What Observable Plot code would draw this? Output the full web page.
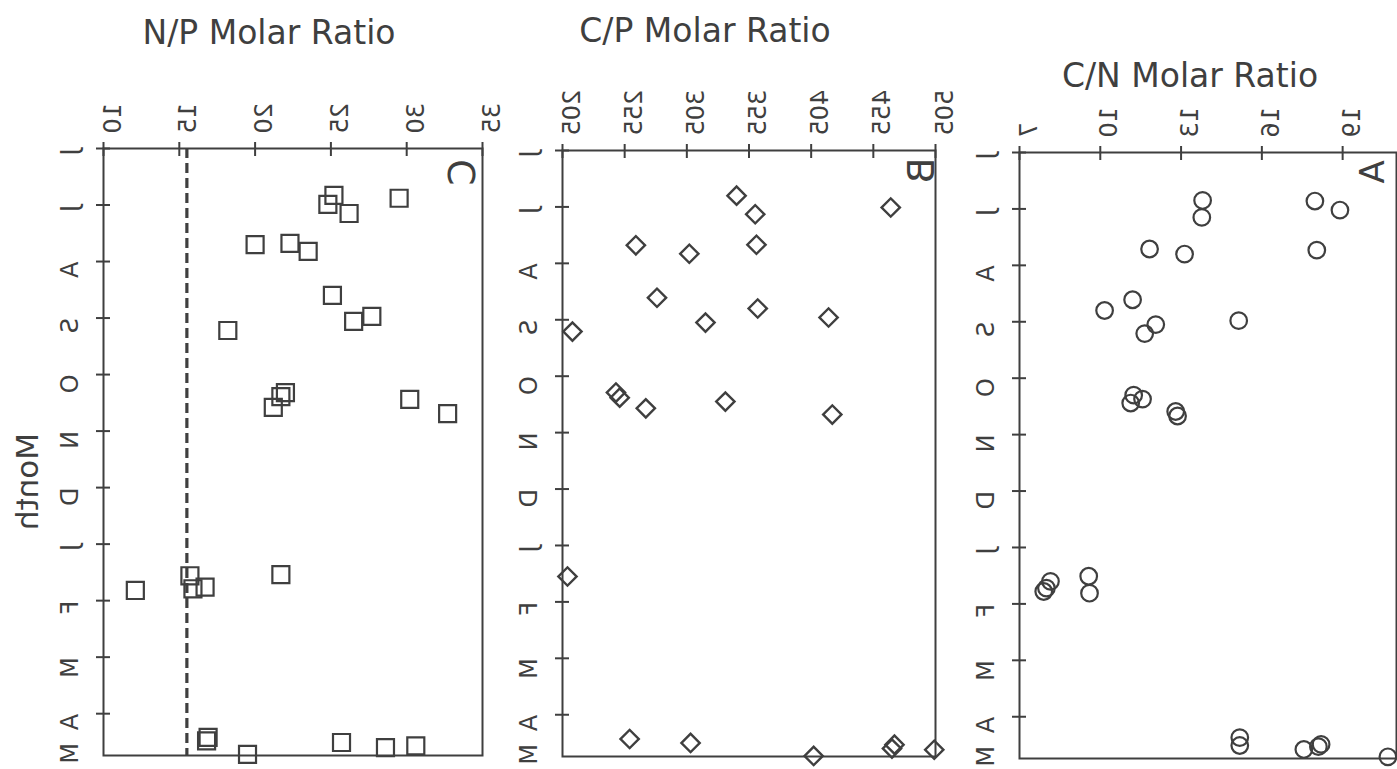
<!DOCTYPE html>
<html>
<head>
<meta charset="utf-8">
<script src="https://cdn.jsdelivr.net/npm/d3@7"></script>
<script src="https://cdn.jsdelivr.net/npm/@observablehq/plot@0.6"></script>
<style>
  body { margin: 0; background: #fff; }
  #fig { position: relative; width: 1397px; height: 769px; overflow: hidden;
         font-family: "DejaVu Sans", sans-serif; color: #3f3f3f; }
  .panel { position: absolute; top: 0; }
  .title { position: absolute; font-size: 33px; white-space: nowrap; line-height: 1;
           transform: translate(-50%, -50%); }
</style>
</head>
<body>
<div id="fig"></div>
<script>
// Month axis: 0 = June, 1 = July, ... 10 = April; the record ends in late May.
const monthLabels = ["J", "J", "A", "S", "O", "N", "D", "J", "F", "M", "A", "M"];
const monthLabelPos = [0, 1, 2, 3, 4, 5, 6, 7, 8, 9, 10, 10.52];
const monthTickPos = [0, 1, 2, 3, 4, 5, 6, 7, 8, 9, 10];
const monthEnd = 10.74;

// N/P molar ratio (panel C)
const npTicks = [10, 15, 20, 25, 30, 35];
const npMonth = [0.83, 0.99, 1.15, 0.88, 1.70, 1.68, 1.82, 2.60, 3.06, 2.97, 3.22,
                 4.32, 4.39, 4.58, 4.44, 4.69, 7.82, 7.56, 7.79, 7.76, 7.54,
                 10.42, 10.48, 10.72, 10.51, 10.60, 10.57];
const npRatio = [25.2, 24.8, 26.2, 29.5, 20.0, 22.3, 23.5, 25.1, 26.5, 27.7, 18.2,
                 22.0, 21.7, 21.2, 30.2, 32.7, 12.1, 15.7, 15.9, 16.7, 21.7,
                 16.9, 16.8, 19.5, 25.7, 28.6, 30.6];
const npReference = [15.5];

// C/P molar ratio (panel B)
const cpTicks = [205, 255, 305, 355, 405, 455, 505];
const cpMonth = [0.80, 1.13, 1.01, 1.68, 1.67, 1.83, 2.61, 2.80, 3.05, 2.96, 3.21,
                 4.29, 4.38, 4.57, 4.45, 4.68, 7.55, 10.43, 10.50, 10.73, 10.60, 10.53, 10.62];
const cpRatio = [345, 360, 469, 264, 361, 307, 281, 362, 320, 419, 213,
                 248, 251, 272, 336, 422, 209, 259, 308, 407, 470, 472, 504];

// C/N molar ratio (panel A)
const cnTicks = [7, 10, 13, 16, 19];
const cnMonth = [0.85, 1.15, 0.86, 1.02, 1.73, 1.71, 1.80, 2.61, 2.80, 3.05, 3.21, 2.98,
                 4.30, 4.37, 4.44, 4.59, 4.67, 7.60, 7.72, 7.78, 7.51, 7.81,
                 10.37, 10.51, 10.58, 10.49, 10.53, 10.71];
const cnRatio = [13.8, 13.77, 17.97, 18.9, 18.04, 11.83, 13.13, 11.2, 10.16, 12.06, 11.65, 15.14,
                 11.24, 11.57, 11.13, 12.8, 12.87, 8.15, 8.0, 7.9, 9.57, 9.6,
                 15.18, 15.18, 17.56, 18.2, 18.1, 20.68];

const INK = "#3f3f3f";
const fig = document.getElementById("fig");

// Sideways text in this figure reads top-to-bottom with glyphs facing left:
// a 90° rotation combined with a flip along the text's own vertical.
function flipSideways(svg) {
  svg.querySelectorAll("text").forEach(t => {
    const tr = t.getAttribute("transform");
    if (tr && tr.includes("rotate(90)")) t.setAttribute("transform", tr + " scale(1,-1)");
  });
}

function panel({left, width, margins, xDomain, xTicks, dots, letter, letterDx, letterDy, letterSize = 38, extra = []}) {
  const [mt, mr, mb, ml] = margins;
  const svg = Plot.plot({
    width, height: 769,
    marginTop: mt, marginRight: mr, marginBottom: mb, marginLeft: ml,
    style: {background: "transparent", overflow: "visible", fontFamily: "DejaVu Sans, sans-serif", color: INK},
    x: {domain: xDomain},
    y: {domain: [0, monthEnd], reverse: true},
    marks: [
      ...extra,
      Plot.frame({stroke: INK, strokeWidth: 2}),
      // crossing tick marks on the value axis (top) and month axis (left)
      Plot.axisX(xTicks, {anchor: "top", tickSize: 14, dy: 7, tickFormat: () => "", label: null, stroke: INK, strokeWidth: 2}),
      Plot.axisY(monthTickPos, {anchor: "left", tickSize: 14, dx: 7, tickFormat: () => "", label: null, stroke: INK, strokeWidth: 2}),
      // value tick labels
      Plot.text(xTicks, {x: d => d, frameAnchor: "top", text: d => String(d), rotate: 90,
                         textAnchor: "end", dy: -15, fontSize: 24, fill: INK}),
      // month tick labels
      Plot.text(monthLabelPos, {y: d => d, frameAnchor: "left", text: (d, i) => monthLabels[i],
                                rotate: 90, dx: -33, fontSize: 24, fill: INK}),
      // panel letter
      Plot.text([letter], {frameAnchor: "top-right", text: d => d, rotate: 90, dx: letterDx, dy: letterDy,
                           fontSize: letterSize, fill: INK}),
      dots
    ]
  });
  svg.classList.add("panel");
  svg.style.left = left + "px";
  flipSideways(svg);
  fig.appendChild(svg);
  return svg;
}

// Panel C: N/P
panel({
  left: 0, width: 500, margins: [148, 18, 14, 103],
  xDomain: [10, 35], xTicks: npTicks,
  letter: "C", letterDx: -34, letterDy: 37,
  extra: [
    Plot.ruleX(npReference, {x: d => d, stroke: INK, strokeWidth: 3.2, strokeDasharray: "10,5"}),
    Plot.text(["Month"], {frameAnchor: "left", text: d => d, rotate: 90, dx: -75, dy: -19, fontSize: 31, fill: INK})
  ],
  dots: Plot.dot(npRatio, {x: d => d, y: (d, i) => npMonth[i], symbol: "square", r: 9.6,
                           stroke: INK, strokeWidth: 2.2, fill: "none"})
});

// Panel B: C/P
panel({
  left: 500, width: 460, margins: [150, 25, 13, 62],
  xDomain: [205, 505], xTicks: cpTicks,
  letter: "B", letterDx: -28, letterDy: 33,
  dots: Plot.dot(cpRatio, {x: d => d, y: (d, i) => cpMonth[i], symbol: "square", rotate: 45, r: 7.3,
                           stroke: INK, strokeWidth: 2.4, fill: "none"})
});

// Panel A: C/N
panel({
  left: 960, width: 437, margins: [152, 1, 11, 59],
  xDomain: [7, 21], xTicks: cnTicks,
  letter: "A", letterDx: -37, letterDy: 31, letterSize: 34,
  dots: Plot.dot(cnRatio, {x: d => d, y: (d, i) => cnMonth[i], symbol: "circle", r: 8.3,
                           stroke: INK, strokeWidth: 2.2, fill: "none"})
});

// Panel titles
const titles = [
  {text: "N/P Molar Ratio", x: 269, y: 32},
  {text: "C/P Molar Ratio", x: 705, y: 30},
  {text: "C/N Molar Ratio", x: 1190, y: 75}
];
for (const t of titles) {
  const div = document.createElement("div");
  div.className = "title";
  div.textContent = t.text;
  div.style.left = t.x + "px";
  div.style.top = t.y + "px";
  fig.appendChild(div);
}
</script>
</body>
</html>
